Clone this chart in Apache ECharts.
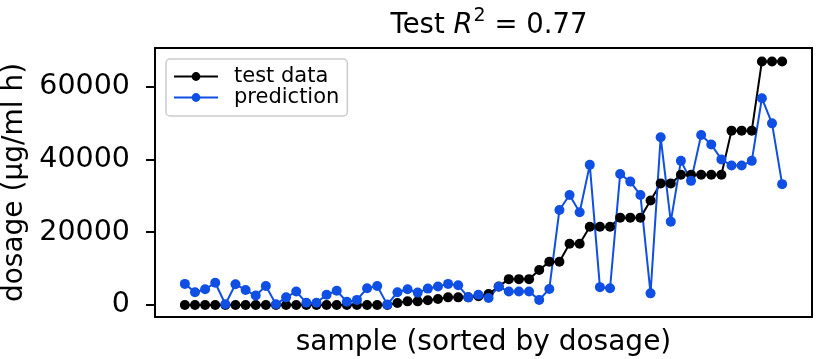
<!DOCTYPE html>
<html>
<head>
<meta charset="utf-8">
<script src="https://cdn.jsdelivr.net/npm/echarts@6/dist/echarts.min.js"></script>
<style>
  html, body { margin: 0; padding: 0; background: #fff; }
  #chart { width: 820px; height: 359px; }
</style>
</head>
<body>
<div id="chart"></div>
<script>
// samples sorted by dosage (index on x)
const testData = [
  0, 0, 0, 0, 0, 0, 0, 0, 0, 0,
  0, 0, 0, 0, 0, 0, 0, 0, 0, 0,
  0, 550, 1000, 1000, 1300, 1650, 2100, 2100, 2100, 2400,
  3000, 5100, 7100, 7100, 7100, 9600, 11900, 11900, 16800, 16800,
  21500, 21500, 21500, 24000, 24000, 24000, 28700, 33400, 33400, 35800,
  35800, 35800, 35800, 35800, 47900, 47900, 47900, 66900, 66900, 66900
]
const prediction = [
  5800, 3500, 4300, 6100, 200, 5700, 4100, 2600, 5200, 200,
  2100, 3700, 600, 600, 2800, 3900, 900, 1400, 4600, 5200,
  100, 3500, 4300, 3400, 4500, 5100, 5800, 5400, 2100, 2800,
  1900, 5000, 3700, 3700, 3700, 1400, 4400, 26100, 30200, 25500,
  38500, 4900, 4600, 36000, 33900, 30200, 3200, 46100, 22900, 39600,
  34100, 46700, 44100, 40000, 38300, 38300, 39600, 56800, 49900, 33200
]
const yTicks = [0, 20000, 40000, 60000]

const font = 'DejaVu Sans'
const chart = echarts.init(document.getElementById('chart'))

const toPoints = (arr) => arr.map((v, i) => [i, v])

chart.setOption({
  animation: false,
  title: {
    text: 'Test {i|R}{sup|2} = 0.77',
    left: 484,
    textAlign: 'center',
    top: 2,
    textStyle: {
      fontFamily: font,
      fontSize: 27.5,
      fontWeight: 'normal',
      color: '#000',
      rich: {
        i: { fontFamily: font, fontSize: 27.5, fontStyle: 'italic', color: '#000' },
        sup: { fontFamily: font, fontSize: 19, color: '#000', padding: [0, 0, 18, 1] }
      }
    }
  },
  legend: {
    orient: 'vertical',
    left: 166,
    top: 59,
    padding: [7, 8, 8, 7],
    itemWidth: 44,
    itemHeight: 11,
    itemGap: 0,
    lineStyle: { width: 2 },
    backgroundColor: 'rgba(255,255,255,0.8)',
    borderColor: '#cccccc',
    borderWidth: 1.5,
    borderRadius: 4,
    textStyle: { fontFamily: font, fontSize: 21, color: '#000', padding: [0, 0, 0, 11] },
    data: ['test data', 'prediction']
  },
  grid: {
    left: 155,
    top: 48,
    right: 8,
    bottom: 42,
    outerBoundsMode: 'none',
    show: true,
    borderColor: '#000',
    borderWidth: 2
  },
  xAxis: {
    type: 'value',
    min: -2.95,
    max: 61.95,
    name: 'sample (sorted by dosage)',
    nameLocation: 'middle',
    nameGap: 12,
    nameTextStyle: { fontFamily: font, fontSize: 28, color: '#000', verticalAlign: 'top' },
    axisLine: { show: false, onZero: false },
    axisTick: { show: false },
    axisLabel: { show: false },
    splitLine: { show: false }
  },
  yAxis: {
    type: 'value',
    min: -3300,
    max: 70600,
    name: 'dosage (µg/ml h)',
    nameLocation: 'middle',
    nameGap: 121,
    nameTextStyle: { fontFamily: font, fontSize: 28, color: '#000' },
    axisLine: { show: false, onZero: false },
    axisTick: {
      show: true,
      length: 9,
      customValues: yTicks,
      lineStyle: { color: '#000', width: 2 }
    },
    axisLabel: {
      customValues: yTicks,
      formatter: (v) => String(v),
      fontFamily: font,
      fontSize: 28.5,
      color: '#000',
      margin: 25
    },
    splitLine: { show: false }
  },
  series: [
    {
      name: 'test data',
      type: 'line',
      data: toPoints(testData),
      symbol: 'circle',
      symbolSize: 10,
      itemStyle: { color: '#000' },
      lineStyle: { color: '#000', width: 2 }
    },
    {
      name: 'prediction',
      type: 'line',
      data: toPoints(prediction),
      symbol: 'circle',
      symbolSize: 10,
      itemStyle: { color: '#0f4fe3' },
      lineStyle: { color: '#0f4fe3', width: 2 }
    }
  ]
})
</script>
</body>
</html>
